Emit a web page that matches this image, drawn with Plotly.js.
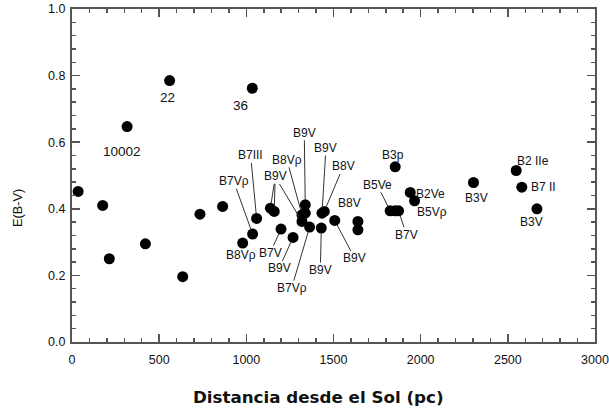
<!DOCTYPE html>
<html>
<head>
<meta charset="utf-8">
<script src="https://cdn.plot.ly/plotly-3.0.1.min.js"></script>
<style>html,body{margin:0;padding:0;background:#fff;}#chart{width:609px;height:410px;}</style>
</head>
<body>
<div id="chart"></div>
<script>
// Distance from the Sun (pc)
const dist = [35,176,214,316,421,560,635,734,864,1034,979,1036,1059,1138,1160,1199,1268,1319,1338,1338,1319,1363,1434,1447,1430,1507,1640,1640,1825,1854,1873,1854,1940,1965,2303,2548,2580,2667];
// Colour excess E(B-V)
const ebv = [0.452,0.410,0.250,0.647,0.295,0.785,0.196,0.384,0.407,0.762,0.297,0.324,0.371,0.402,0.392,0.339,0.314,0.382,0.412,0.387,0.362,0.345,0.387,0.392,0.342,0.365,0.362,0.337,0.394,0.394,0.394,0.526,0.449,0.424,0.479,0.515,0.465,0.400];
// Point labels: text, index of the point
const labelText = ["10002","22","36","B8Vρ","B7Vρ","B7III","B9V","B9V","B9V","B8Vρ","B9V","B9V","B8V","B8V","B7V","B9V","B7Vρ","B9V","B9V","B3p","B5Ve","B7V","B2Ve","B5Vρ","B3V","B2 IIe","B7 II","B3V"];
const labelPoint = [3,5,9,10,11,12,13,14,20,17,18,22,23,26,15,16,21,24,25,31,28,30,32,33,34,35,36,37];

// label placement (pixels): [dx, dy(screen, down positive), leader line?, visible text?]
const place = [
  [-5,25,false,true],[-2,17,false,true],[-12,17,false,true],[-2,12,false,true],
  [-19,-53,true,true],[-6,-63,true,true],
  [5,-32,true,true],[1,-35,true,false],[-27,-45,true,false],
  [-15,-55,true,true],[-1,-72,true,true],[4,-65,true,true],[19,-45,true,true],
  [-8,-18,false,true],
  [-11,24,true,true],[-14,31,true,true],[-18,61,true,true],[-1,42,true,true],[20,38,true,true],
  [-2,-12,false,true],[-13,-26,true,true],[8,24,true,true],
  [20,2,false,true],[17,11,false,true],[3,16,false,true],[17,-10,false,true],[22,0,false,true],[-5,13,false,true]
];

const FONT = 'Liberation Sans, Arial, Helvetica, sans-serif';
const annotations = labelText.map((t,i)=>{
  const p = labelPoint[i], pl = place[i];
  const base = {x: dist[p], y: ebv[p], xref:'x', yref:'y', text: t,
    font:{family: FONT, size: /^\d/.test(t)?13.5:12, color: pl[3]?'#111':'rgba(0,0,0,0)'}};
  if (pl[2]) {
    return Object.assign(base, {showarrow:true, ax: pl[0], ay: pl[1], arrowhead:0, arrowwidth:1, arrowcolor:'#333', standoff:5, borderpad:0});
  }
  return Object.assign(base, {showarrow:false, xshift: pl[0], yshift: -pl[1]});
});

annotations.push({xref:'paper', yref:'paper', x:0.471, y:-0.164, xanchor:'center', yanchor:'middle', showarrow:false,
  text:'<b>Distancia desde el Sol (pc)</b>', font:{family:'DejaVu Sans, Arial, sans-serif', size:16.7, color:'#111'}});
annotations.push({xref:'paper', yref:'paper', x:-0.103, y:0.403, xanchor:'center', yanchor:'middle', showarrow:false, textangle:-90,
  text:'E(B-V)', font:{family: FONT, size:12.7, color:'#111'}});

const axisCommon = {showline:true, linecolor:'#555', linewidth:2, mirror:'ticks', ticks:'inside', tickcolor:'#555', tickwidth:1.5, ticklen:8,
  showgrid:false, zeroline:false, ticklabeloverflow:'allow', tickfont:{family: FONT, size:12.5, color:'#111'}};

const layout = {
  width:609, height:410, margin:{l:72, r:14, t:9, b:68},
  paper_bgcolor:'#fff', plot_bgcolor:'#fff', showlegend:false,
  xaxis: Object.assign({}, axisCommon, {range:[0,3000], tickmode:'linear', tick0:0, dtick:500, ticklabelstandoff:5,
    minor:{dtick:100, ticks:'inside', ticklen:4, tickcolor:'#555', tickwidth:1.5}}),
  yaxis: Object.assign({}, axisCommon, {range:[0,1], tickmode:'linear', tick0:0, dtick:0.2, tickformat:'.1f', ticklabelstandoff:2,
    minor:{dtick:0.04, ticks:'inside', ticklen:4, tickcolor:'#555', tickwidth:1.5}}),
  annotations: annotations
};

Plotly.newPlot('chart', [{x:dist, y:ebv, type:'scatter', mode:'markers', cliponaxis:false,
  marker:{color:'#000', size:11}}], layout, {staticPlot:true});
</script>
</body>
</html>
